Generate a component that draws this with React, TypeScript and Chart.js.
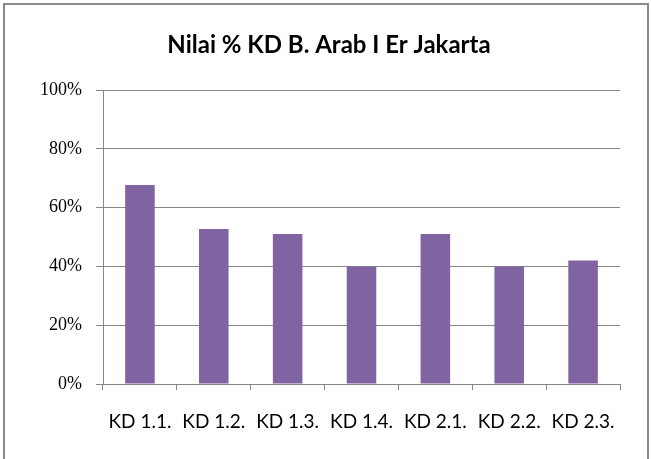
import React, { useEffect, useRef } from "react";
import { Chart, registerables } from "chart.js";

Chart.register(...registerables);

const categories = ["KD 1.1.", "KD 1.2.", "KD 1.3.", "KD 1.4.", "KD 2.1.", "KD 2.2.", "KD 2.3."];
const values = [67.7, 52.7, 51, 40, 51, 40, 42];
const yTicks = [0, 20, 40, 60, 80, 100];
const titleText = "Nilai % KD B. Arab I Er Jakarta";

const frame = {
  id: "frame",
  beforeDraw(chart: any) {
    const ctx = chart.ctx;
    ctx.save();
    ctx.fillStyle = "#ffffff";
    ctx.fillRect(0, 0, chart.width, chart.height);
    ctx.strokeStyle = "#8a8a8a";
    ctx.lineWidth = 2;
    ctx.beginPath();
    ctx.moveTo(4, chart.height + 10);
    ctx.lineTo(4, 4);
    ctx.lineTo(648, 4);
    ctx.lineTo(648, chart.height + 10);
    ctx.stroke();
    ctx.fillStyle = "#000";
    ctx.font = "bold 24px Lato";
    ctx.textAlign = "center";
    ctx.textBaseline = "middle";
    ctx.fillText(titleText, 329, 45);
    ctx.restore();
  },
};

export default function App() {
  const ref = useRef<HTMLCanvasElement>(null);
  useEffect(() => {
    const chart = new Chart(ref.current!, {
      type: "bar",
      data: {
        labels: categories,
        datasets: [
          {
            data: values,
            backgroundColor: "#8064A2",
            borderWidth: 0,
            categoryPercentage: 1,
            barPercentage: 0.4,
          },
        ],
      },
      options: {
        animation: false,
        responsive: false,
        layout: { padding: { left: 0, right: 31, top: 90, bottom: 0 } },
        plugins: {
          legend: { display: false },
          tooltip: { enabled: false },
          title: { display: false },
        },
        scales: {
          x: {
            grid: {
              display: true,
              drawOnChartArea: false,
              drawTicks: true,
              tickLength: 6,
              color: "#868686",
              offset: true,
            },
            border: { display: true, color: "#868686", width: 1 },
            ticks: {
              color: "#000",
              font: { family: "Lato", size: 19 },
              padding: 20,
              maxRotation: 0,
              autoSkip: false,
            },
            afterFit: (s: any) => {
              s.height = 75;
            },
          },
          y: {
            min: 0,
            max: 100,
            afterBuildTicks: (s: any) => {
              s.ticks = yTicks.map((v) => ({ value: v }));
            },
            grid: {
              color: "#868686",
              drawTicks: true,
              tickLength: 7,
            },
            border: { display: true, color: "#868686", width: 1 },
            ticks: {
              color: "#000",
              font: { family: "Liberation Serif", size: 18 },
              padding: 14,
              callback: (v: any) => v + "%",
            },
            afterFit: (s: any) => {
              s.width = 103;
            },
          },
        },
      },
      plugins: [frame],
    });
    return () => chart.destroy();
  }, []);
  return (
    <div style={{ position: "fixed", left: 0, top: 0, width: 651, height: 459 }}>
      <canvas ref={ref} width={651} height={459} style={{ display: "block" }} />
    </div>
  );
}
